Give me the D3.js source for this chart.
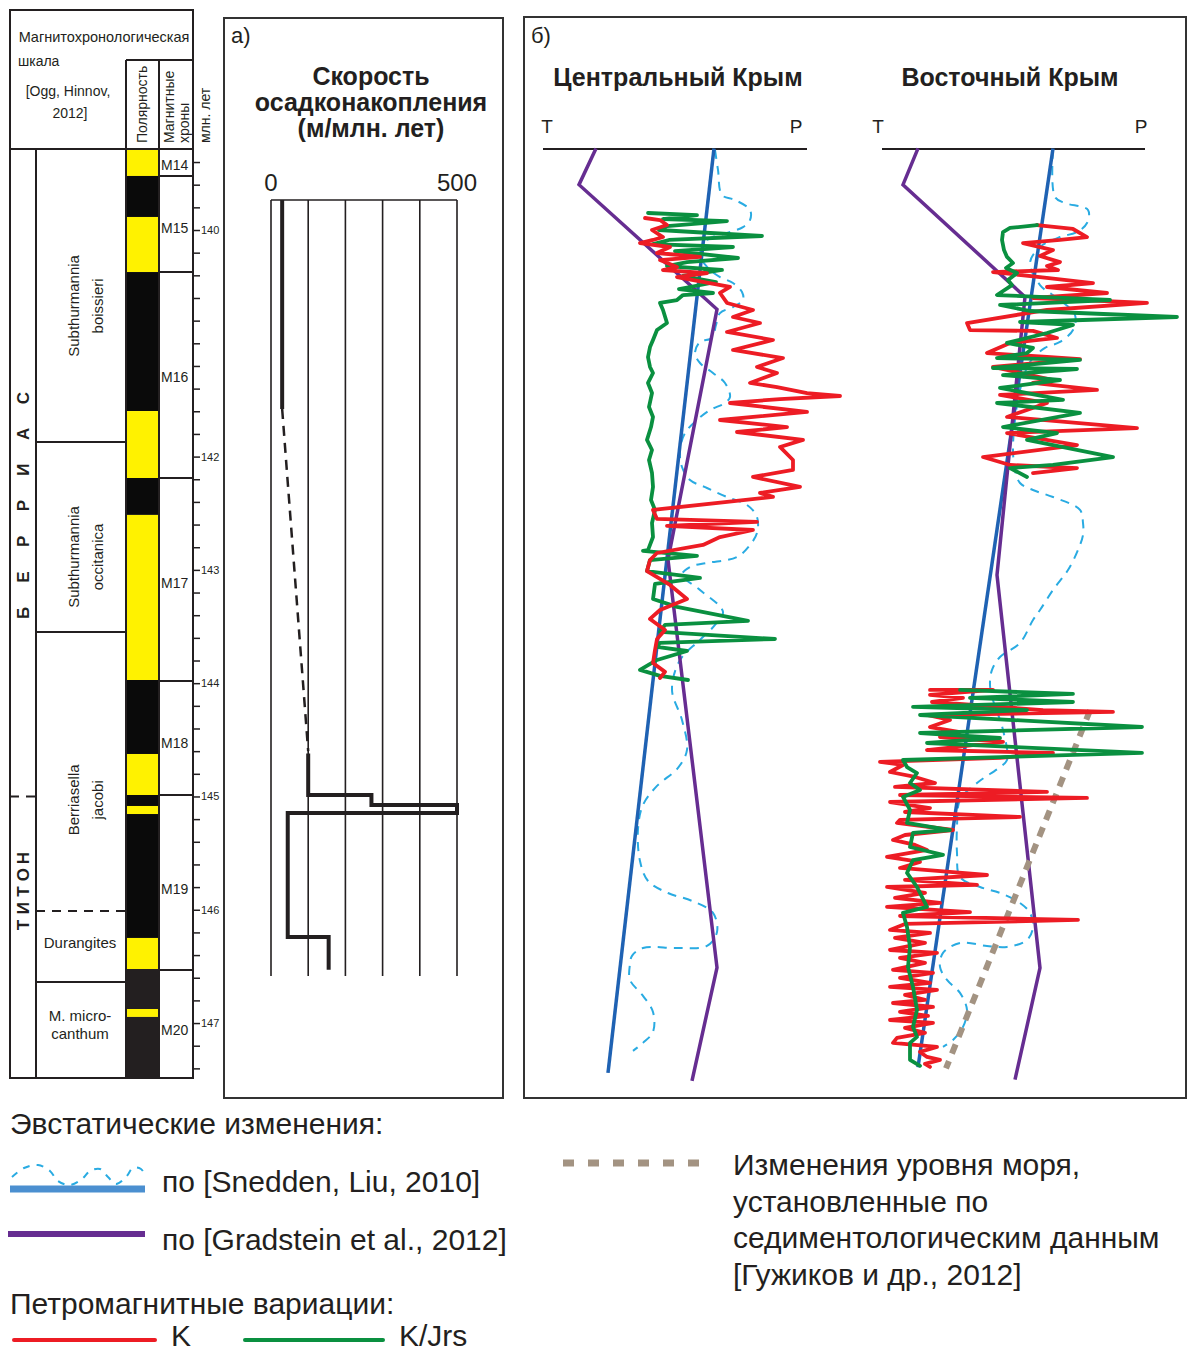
<!DOCTYPE html>
<html>
<head>
<meta charset="utf-8">
<script src="https://cdn.jsdelivr.net/npm/d3@7"></script>
<style>
  body { margin: 0; background: #fff; }
  svg { display: block; }
</style>
</head>
<body>
<div id="chart"></div>
<script>
// ---------- magnetochronological scale ----------
const polarityBounds = [139.285, 139.523, 139.885, 140.371, 141.598, 142.189, 142.515, 143.972, 144.625, 144.987, 145.084, 145.155, 146.249, 146.523, 146.876, 146.946, 147.485];
const polarityType = ['N', 'R', 'N', 'R', 'N', 'R', 'N', 'R', 'N', 'R', 'N', 'R', 'N', 'R2', 'N', 'R2'];

const chronBounds = [139.285, 139.523, 140.371, 142.189, 143.981, 144.987, 146.531, 147.485];
const chronNames = ['M14', 'M15', 'M16', 'M17', 'M18', 'M19', 'M20'];
const chronLabelAge = [139.43, 139.98, 141.30, 143.12, 144.53, 145.82, 147.06];

const zoneBounds = [139.285, 141.871, 143.548, 146.011, 146.637, 147.485];
const zoneDashed = [false, false, false, true, false, false];
const zoneNames = [['Subthurmannia', 'boissieri'], ['Subthurmannia', 'occitanica'], ['Berriasella', 'jacobi'], ['Durangites'], ['M. micro-', 'canthum']];
const zoneRotated = [true, true, true, false, false];
const zoneLabelAge = [140.67, 142.886, 145.03, 146.293, 147.017];

const stageNames = ['БЕРРИАС', 'ТИТОН'];
const stageLetterSpan = [[143.38, 141.483], [146.134, 145.543]];
const stageBoundary = 145.0;

const ageTicks = d3.range(697, 738).map(d => d / 5);
const ageLabels = [140, 142, 143, 144, 145, 146, 147];

// ---------- а) sedimentation rate, m/Ma ----------
const rateTicks = [0, 100, 200, 300, 400, 500];
const rateLabels = [0, 500];
const rateGridAge = [139.735, 146.585];
const rateSolidTop = [[30, 139.735], [30, 141.58]];
const rateDashed = [[30, 141.58], [100, 144.6]];
const rateSolidBottom = [[100, 144.62], [100, 144.987], [270, 144.987], [270, 145.075], [500, 145.075], [500, 145.146], [45, 145.146], [45, 146.24], [155, 146.24], [155, 146.53]];

// ---------- б) Central Crimea: [age, relative level] ----------
const centralPurple = [[139.28, 26.5], [139.60, 18], [140.70, 87], [142.91, 62.5], [146.51, 87], [147.51, 74.5]];
const centralBlue = [[139.28, 85.5], [147.44, 32.5]];
const centralDashed = [[139.294, 86], [139.47, 87.5], [139.691, 89.5], [139.735, 96], [139.823, 103.5], [139.912, 103.5], [139.974, 100], [140.026, 92], [140.088, 82], [140.221, 78.5], [140.335, 82.5], [140.415, 88.5], [140.468, 95], [140.547, 99.5], [140.618, 100], [140.68, 95], [140.733, 88.5], [140.838, 86.5], [140.953, 84.5], [140.988, 78.5], [141.086, 76], [141.174, 78.5], [141.262, 85], [141.35, 91], [141.474, 93.5], [141.527, 91], [141.589, 83.5], [141.677, 77], [141.792, 71], [141.942, 68.5], [142.092, 69.5], [142.207, 73.5], [142.277, 82], [142.357, 92], [142.427, 102], [142.533, 107], [142.674, 107], [142.78, 103.5], [142.886, 97], [142.939, 82], [142.974, 73.5], [143.045, 69.5], [143.177, 78.5], [143.371, 90], [143.486, 86], [143.618, 78.5], [143.795, 68.5], [144.06, 64.5], [144.325, 69.5], [144.589, 72], [144.748, 67.5], [144.907, 57], [145.075, 50], [145.287, 47.5], [145.569, 48.5], [145.746, 52.5], [145.852, 62.5], [145.922, 74.5], [146.028, 85], [146.196, 87], [146.319, 82], [146.337, 67], [146.337, 50], [146.407, 44.5], [146.478, 43.5], [146.619, 43.5], [146.76, 50], [146.902, 55], [147.078, 55], [147.175, 50], [147.246, 45]];
const centralRed = [[139.894, 51], [139.912, 58.5], [139.956, 62], [140.0, 54.5], [140.062, 60], [140.088, 55], [140.115, 48.5], [140.15, 63.5], [140.203, 57], [140.238, 78.5], [140.265, 58.5], [140.327, 67], [140.353, 60], [140.38, 82], [140.415, 67], [140.503, 93.5], [140.556, 88.5], [140.644, 92], [140.706, 105], [140.768, 95], [140.821, 108.5], [140.9, 92], [140.971, 115], [141.059, 95], [141.13, 120], [141.209, 107], [141.262, 117], [141.35, 103.5], [141.386, 117], [141.439, 132], [141.465, 148.5], [141.492, 118.5], [141.527, 93.5], [141.606, 132], [141.677, 88.5], [141.739, 122], [141.783, 97], [141.853, 130], [141.915, 118.5], [142.03, 125], [142.118, 125], [142.18, 105], [142.268, 128.5], [142.321, 108.5], [142.356, 115], [142.471, 55], [142.55, 57], [142.577, 107], [142.612, 62], [142.648, 105], [142.71, 88.5], [142.78, 80], [142.851, 57], [142.913, 53.5], [143.01, 52], [143.133, 63.5], [143.257, 72], [143.354, 58.5], [143.433, 53.5], [143.53, 61], [143.61, 57], [143.707, 56], [143.822, 55], [143.9, 61], [143.954, 58.5]];
const centralGreen = [[139.85, 52.5], [139.868, 77], [139.903, 60], [139.921, 92], [139.965, 62], [140.0, 58], [140.053, 109.5], [140.088, 63], [140.124, 55], [140.15, 95], [140.186, 66], [140.247, 97.5], [140.283, 72], [140.318, 62], [140.353, 89.5], [140.406, 70], [140.459, 86.5], [140.521, 68], [140.556, 85], [140.574, 70], [140.618, 67], [140.644, 58.5], [140.706, 60], [140.821, 62], [140.883, 57], [140.971, 55], [141.033, 53.5], [141.121, 52.5], [141.209, 53.5], [141.262, 55], [141.35, 52.5], [141.439, 54.5], [141.562, 53], [141.65, 55], [141.739, 54], [141.853, 52], [141.942, 54.5], [142.03, 53], [142.145, 54.5], [142.268, 55], [142.383, 54], [142.471, 56], [142.586, 54.5], [142.71, 55], [142.825, 52.5], [142.833, 50], [142.877, 77], [142.913, 53.5], [143.01, 52], [143.071, 78.5], [143.124, 56], [143.257, 55], [143.327, 67], [143.45, 102.5], [143.486, 61], [143.548, 58.5], [143.61, 116], [143.645, 58.5], [143.68, 57], [143.716, 72], [143.795, 57], [143.883, 48.5], [143.936, 58.5], [143.972, 72.5]];

// ---------- б) Eastern Crimea: [age, relative level] ----------
const eastPurple = [[139.28, 18], [139.60, 10.5], [140.59, 71.5], [143.045, 57.5], [146.514, 79], [147.50, 66.5]];
const eastBlue = [[139.28, 85.5], [147.39, 18]];
const eastSedLevel = [[144.24, 104], [147.40, 32]];
const eastDashed = [[139.294, 85.5], [139.709, 86.5], [139.762, 91.5], [139.823, 103], [139.938, 102.5], [140.018, 97.5], [140.062, 89], [140.15, 79], [140.291, 74], [140.486, 79], [140.618, 89], [140.75, 96.5], [140.883, 95.5], [140.988, 89], [141.041, 81.5], [141.165, 74], [141.412, 69], [141.677, 66.5], [141.942, 65.5], [142.118, 66.5], [142.233, 69], [142.295, 75.5], [142.357, 85.5], [142.471, 99], [142.586, 100.5], [142.692, 100.5], [142.824, 98], [143.001, 93], [143.177, 85.5], [143.354, 79], [143.442, 75.5], [143.645, 69], [143.769, 59], [143.883, 55], [144.016, 54], [144.148, 55.5], [144.413, 60.5], [144.678, 62.5], [144.74, 59], [144.881, 47.5], [145.031, 39], [145.269, 37.5], [145.499, 37.5], [145.711, 39], [145.799, 49], [145.852, 59], [145.94, 69], [146.028, 74], [146.152, 75.5], [146.267, 72.5], [146.328, 62.5], [146.319, 52.5], [146.293, 39], [146.381, 30.5], [146.505, 29], [146.619, 32.5], [146.734, 39], [146.884, 42.5], [147.034, 40.5], [147.149, 35.5], [147.211, 30.5]];
const eastRedUpper = [[139.956, 77.5], [139.991, 95.5], [140.062, 102.5], [140.088, 89], [140.115, 70.5], [140.177, 85.5], [140.229, 79], [140.283, 89], [140.318, 82.5], [140.353, 88], [140.371, 55.5], [140.415, 79], [140.468, 105.5], [140.503, 82.5], [140.556, 112.5], [140.6, 75.5], [140.644, 132.5], [140.706, 82.5], [140.821, 42.5], [140.883, 44], [140.891, 75.5], [140.953, 87.5], [140.997, 64], [141.086, 52.5], [141.121, 82.5], [141.139, 99], [141.209, 55.5], [141.324, 85.5], [141.35, 75.5], [141.412, 107.5], [141.456, 59], [141.527, 82.5], [141.65, 62.5], [141.748, 127.5], [141.792, 62.5], [141.898, 97.5], [142.004, 50.5], [142.074, 64], [142.101, 97.5], [142.145, 75.5]];
const eastRedLower = [[144.06, 24], [144.06, 55.5], [144.104, 24], [144.13, 40.5], [144.166, 25], [144.237, 80.5], [144.254, 115.5], [144.281, 22.5], [144.325, 34], [144.387, 24], [144.431, 39], [144.475, 29], [144.519, 60.5], [144.59, 22.5], [144.616, 85.5], [144.66, 59], [144.695, -1], [144.722, 10.5], [144.784, 4], [144.828, 16.5], [144.881, 26.5], [144.916, 6.5], [144.96, 82.5], [144.987, 9], [145.013, 102.5], [145.049, 4], [145.102, 24], [145.137, 11.5], [145.181, 69], [145.207, 9], [145.234, 7.5], [145.296, 35.5], [145.34, 11.5], [145.384, 5.5], [145.428, 16.5], [145.472, 22.5], [145.534, 2.5], [145.578, 19], [145.631, 9], [145.693, 52.5], [145.737, 11.5], [145.781, 47.5], [145.799, 2.5], [145.852, 21.5], [145.896, 6.5], [145.94, 29], [145.975, 2.5], [146.02, 44], [146.055, 9], [146.09, 98], [146.125, 11.5], [146.178, 4], [146.205, 24], [146.249, 6.5], [146.293, 21.5], [146.355, 4], [146.381, 27.5], [146.425, 9], [146.469, 21.5], [146.531, 5.5], [146.558, 25.5], [146.602, 9], [146.646, 24], [146.681, 4], [146.708, 27.5], [146.752, 11.5], [146.796, 21.5], [146.823, 5.5], [146.858, 25.5], [146.902, 9], [146.937, 23], [146.973, 4], [146.999, 25.5], [147.043, 11.5], [147.087, 21.5], [147.131, 7.5], [147.175, 5.5], [147.211, 27.5], [147.255, 19], [147.299, 22.5], [147.325, 29], [147.361, 21.5], [147.387, 24]];
const eastGreenUpper = [[139.956, 77.5], [139.982, 64], [140.018, 60.5], [140.088, 60], [140.177, 61], [140.238, 62.5], [140.291, 65.5], [140.335, 62], [140.38, 67.5], [140.441, 63], [140.486, 65], [140.574, 57.5], [140.618, 114], [140.662, 59], [140.715, 74], [140.768, 147.5], [140.812, 69], [140.838, 95.5], [140.909, 82.5], [140.997, 62.5], [141.041, 75.5], [141.086, 72.5], [141.13, 57.5], [141.147, 99], [141.218, 55.5], [141.227, 97.5], [141.28, 60.5], [141.324, 89], [141.394, 59], [141.5, 90.5], [141.527, 57.5], [141.615, 99], [141.739, 60.5], [141.792, 87.5], [141.853, 72.5], [142.004, 115.5], [142.074, 85.5], [142.101, 64], [142.18, 72.5]];
const eastGreenLower = [[144.06, 39], [144.095, 95.5], [144.13, 44], [144.166, 95.5], [144.21, 15.5], [144.237, 72.5], [144.281, 19], [144.387, 130], [144.44, 19], [144.484, 59], [144.528, 22.5], [144.616, 130], [144.678, 10.5], [144.74, 12.5], [144.793, 17.5], [144.881, 14], [144.943, 19], [145.004, 10.5], [145.119, 14], [145.234, 12.5], [145.296, 34], [145.322, 15.5], [145.446, 14], [145.516, 30.5], [145.561, 15.5], [145.675, 12.5], [145.799, 17.5], [145.975, 22.5], [146.028, 10.5], [146.152, 12.5], [146.328, 14], [146.505, 13], [146.681, 15.5], [146.884, 17.5], [147.034, 15.5], [147.122, 17.5], [147.175, 14], [147.325, 14], [147.378, 19]];

// ---------- drawing ----------
const W = 1188, H = 1353;
const ink = '#231f20';
const fontFam = '"Liberation Sans", Arial, Helvetica, sans-serif';
const polColor = { N: '#fff200', R: '#0a0a0a', R2: '#231f20' };

const svg = d3.select('#chart').append('svg')
  .attr('width', W)
  .attr('height', H)
  .attr('font-family', fontFam);
svg.append('rect').attr('width', W).attr('height', H).attr('fill', '#fff');

const ageY = d3.scaleLinear().domain([139.285, 147.485]).range([149, 1078]);

// --- left table ---
const tbl = svg.append('g');
tbl.selectAll('rect.pol')
  .data(polarityType)
  .join('rect')
  .attr('x', 126)
  .attr('width', 33)
  .attr('y', (d, i) => ageY(polarityBounds[i]))
  .attr('height', (d, i) => ageY(polarityBounds[i + 1]) - ageY(polarityBounds[i]))
  .attr('fill', d => polColor[d]);

const hline = (g, x1, x2, y, dashed) => g.append('line')
  .attr('x1', x1).attr('x2', x2).attr('y1', y).attr('y2', y)
  .attr('stroke', ink).attr('stroke-width', 2)
  .attr('stroke-dasharray', dashed ? '9,7' : null);
const vline = (g, x, y1, y2) => g.append('line')
  .attr('x1', x).attr('x2', x).attr('y1', y1).attr('y2', y2)
  .attr('stroke', ink).attr('stroke-width', 2);

tbl.append('rect').attr('x', 10).attr('y', 10).attr('width', 183).attr('height', 1068)
  .attr('fill', 'none').attr('stroke', ink).attr('stroke-width', 2);
hline(tbl, 10, 193, 149);
hline(tbl, 126, 193, 60);
vline(tbl, 36, 149, 1078);
vline(tbl, 126, 60, 1078);
vline(tbl, 159, 60, 1078);

chronBounds.slice(1, -1).forEach(a => hline(tbl, 159, 193, ageY(a)));
zoneBounds.slice(1, -1).forEach((a, i) => hline(tbl, 36, 126, ageY(a), zoneDashed[i + 1]));
hline(tbl, 10, 36, ageY(stageBoundary), true);

tbl.selectAll('text.chron')
  .data(chronNames)
  .join('text')
  .attr('x', 161)
  .attr('y', (d, i) => ageY(chronLabelAge[i]))
  .attr('dominant-baseline', 'central')
  .attr('font-size', 14)
  .attr('fill', ink)
  .text(d => d);

zoneNames.forEach((lines, i) => {
  const yc = ageY(zoneLabelAge[i]);
  lines.forEach((t, j) => {
    const off = (j - (lines.length - 1) / 2);
    const txt = tbl.append('text')
      .attr('text-anchor', 'middle')
      .attr('dominant-baseline', 'central')
      .attr('font-size', 15)
      .attr('fill', ink)
      .text(t);
    if (zoneRotated[i]) txt.attr('transform', `translate(${85 + off * 24},${yc}) rotate(-90)`);
    else txt.attr('x', 80).attr('y', yc + off * 18);
  });
});

stageNames.forEach((name, i) => {
  const letters = name.split('');
  const pos = d3.scalePoint().domain(d3.range(letters.length))
    .range(stageLetterSpan[i].map(ageY));
  tbl.selectAll(null)
    .data(letters)
    .join('text')
    .attr('transform', (d, k) => `translate(23,${pos(k)}) rotate(-90)`)
    .attr('text-anchor', 'middle')
    .attr('dominant-baseline', 'central')
    .attr('font-size', 17)
    .attr('font-weight', 'bold')
    .attr('fill', ink)
    .text(d => d);
});

// header texts
const head = tbl.append('g').attr('font-size', 14).attr('fill', ink);
head.append('text').attr('x', 104).attr('y', 42).attr('text-anchor', 'middle').attr('font-size', 14.5).text('Магнитохронологическая');
head.append('text').attr('x', 18).attr('y', 66).text('шкала');
head.append('text').attr('x', 68).attr('y', 96).attr('text-anchor', 'middle').text('[Ogg, Hinnov,');
head.append('text').attr('x', 70).attr('y', 118).attr('text-anchor', 'middle').text('2012]');
[['Полярность', 142], ['Магнитные', 169], ['хроны', 184], ['млн. лет', 205]].forEach(([t, x]) => {
  head.append('text')
    .attr('transform', `translate(${x},143) rotate(-90)`)
    .attr('dominant-baseline', 'central')
    .text(t);
});

// age axis
const ageAxis = d3.axisRight(ageY)
  .tickValues(ageTicks)
  .tickSize(7)
  .tickPadding(1)
  .tickFormat(d => ageLabels.includes(+d.toFixed(1)) ? d3.format('d')(d) : '');
svg.append('g')
  .attr('transform', 'translate(193,0)')
  .call(ageAxis)
  .call(g => g.select('.domain').remove())
  .call(g => g.selectAll('line').attr('stroke', ink).attr('stroke-width', 1.5))
  .call(g => g.selectAll('text').attr('font-size', 11).attr('fill', ink).attr('font-family', fontFam));

// --- panel а ---
const pa = svg.append('g');
pa.append('rect').attr('x', 224).attr('y', 18).attr('width', 279).attr('height', 1080)
  .attr('fill', 'none').attr('stroke', '#333').attr('stroke-width', 2);
pa.append('text').attr('x', 231).attr('y', 43).attr('font-size', 22).attr('fill', ink).text('а)');
const rateTitle = ['Скорость', 'осадконакопления', '(м/млн. лет)'];
pa.selectAll('text.title')
  .data(rateTitle)
  .join('text')
  .attr('x', 371)
  .attr('y', (d, i) => 85 + i * 26)
  .attr('text-anchor', 'middle')
  .attr('font-size', 25)
  .attr('font-weight', 'bold')
  .attr('fill', ink)
  .text(d => d);

const rateX = d3.scaleLinear().domain([0, 500]).range([271, 457]);
pa.selectAll('line.grid')
  .data(rateTicks)
  .join('line')
  .attr('x1', d => rateX(d)).attr('x2', d => rateX(d))
  .attr('y1', ageY(rateGridAge[0])).attr('y2', ageY(rateGridAge[1]))
  .attr('stroke', ink).attr('stroke-width', 1.6);
pa.append('line')
  .attr('x1', rateX(0)).attr('x2', rateX(500))
  .attr('y1', ageY(rateGridAge[0])).attr('y2', ageY(rateGridAge[0]))
  .attr('stroke', ink).attr('stroke-width', 1.6);
pa.selectAll('text.rl')
  .data(rateLabels)
  .join('text')
  .attr('x', d => rateX(d))
  .attr('y', 191)
  .attr('text-anchor', 'middle')
  .attr('font-size', 24)
  .attr('fill', ink)
  .text(d => d);

const rateLine = d3.line().x(d => rateX(d[0])).y(d => ageY(d[1]));
pa.append('path').attr('d', rateLine(rateSolidTop)).attr('fill', 'none')
  .attr('stroke', ink).attr('stroke-width', 4);
pa.append('path').attr('d', rateLine(rateDashed)).attr('fill', 'none')
  .attr('stroke', ink).attr('stroke-width', 2.5).attr('stroke-dasharray', '10,7');
pa.append('path').attr('d', rateLine(rateSolidBottom)).attr('fill', 'none')
  .attr('stroke', ink).attr('stroke-width', 4).attr('stroke-linejoin', 'miter');

// --- panel б ---
const pb = svg.append('g');
pb.append('rect').attr('x', 524).attr('y', 17).attr('width', 662).attr('height', 1081)
  .attr('fill', 'none').attr('stroke', '#333').attr('stroke-width', 2);
pb.append('text').attr('x', 531).attr('y', 43).attr('font-size', 22).attr('fill', ink).text('б)');

const cX = d3.scaleLinear().domain([0, 132]).range([543, 807]);
const eX = d3.scaleLinear().domain([0, 131.5]).range([882, 1145]);

const sections = [
  { name: 'Центральный Крым', x: cX, titleX: 678, tp: [547, 796], purple: centralPurple, blue: centralBlue, dashed: centralDashed, red: [centralRed], green: [centralGreen], greenFirst: true },
  { name: 'Восточный Крым', x: eX, titleX: 1010, tp: [878, 1141], purple: eastPurple, blue: eastBlue, dashed: eastDashed, red: [eastRedUpper, eastRedLower], green: [eastGreenUpper, eastGreenLower], sed: eastSedLevel, greenFirst: false }
];

sections.forEach(s => {
  const [x0, x1] = s.x.range();
  const g = pb.append('g');
  g.append('text').attr('x', s.titleX).attr('y', 86).attr('text-anchor', 'middle')
    .attr('font-size', 25).attr('font-weight', 'bold').attr('fill', ink).text(s.name);
  g.append('text').attr('x', s.tp[0]).attr('y', 133).attr('text-anchor', 'middle')
    .attr('font-size', 19).attr('fill', ink).text('Т');
  g.append('text').attr('x', s.tp[1]).attr('y', 133).attr('text-anchor', 'middle')
    .attr('font-size', 19).attr('fill', ink).text('Р');
  g.append('line').attr('x1', x0).attr('x2', x1).attr('y1', 149).attr('y2', 149)
    .attr('stroke', ink).attr('stroke-width', 2);

  const line = d3.line().x(d => s.x(d[1])).y(d => ageY(d[0]));
  const smooth = d3.line().x(d => s.x(d[1])).y(d => ageY(d[0])).curve(d3.curveCatmullRom.alpha(0.5));

  g.append('path').attr('d', smooth(s.dashed)).attr('fill', 'none')
    .attr('stroke', '#29abe2').attr('stroke-width', 2).attr('stroke-dasharray', '9,7');
  g.append('path').attr('d', line(s.blue)).attr('fill', 'none')
    .attr('stroke', '#1f62b3').attr('stroke-width', 3.5);
  g.append('path').attr('d', line(s.purple)).attr('fill', 'none')
    .attr('stroke', '#662d91').attr('stroke-width', 3.5).attr('stroke-linejoin', 'miter');
  if (s.sed) {
    g.append('path').attr('d', line(s.sed)).attr('fill', 'none')
      .attr('stroke', '#a39382').attr('stroke-width', 6).attr('stroke-dasharray', '10,8');
  }
  const curves = s.greenFirst
    ? [[s.green, '#0a9040'], [s.red, '#ed1c24']]
    : [[s.red, '#ed1c24'], [s.green, '#0a9040']];
  curves.forEach(([parts, color]) => {
    parts.forEach(data => {
      g.append('path').attr('d', line(data)).attr('fill', 'none')
        .attr('stroke', color).attr('stroke-width', 3.8)
        .attr('stroke-linejoin', 'round').attr('stroke-linecap', 'round');
    });
  });
});

// --- legend ---
const lg = svg.append('g').attr('font-size', 30).attr('fill', ink);
lg.append('text').attr('x', 10).attr('y', 1134).text('Эвстатические изменения:');
const wave = [[12, 1177], [24, 1168], [38, 1165], [50, 1171], [58, 1181], [70, 1185], [82, 1179], [90, 1171], [100, 1169], [108, 1177], [116, 1184], [126, 1177], [133, 1168], [141, 1169], [146, 1177]];
lg.append('path').attr('d', d3.line().curve(d3.curveCatmullRom)(wave)).attr('fill', 'none')
  .attr('stroke', '#29abe2').attr('stroke-width', 2).attr('stroke-dasharray', '7,7');
lg.append('line').attr('x1', 10).attr('x2', 145).attr('y1', 1189).attr('y2', 1189)
  .attr('stroke', '#4b8fd0').attr('stroke-width', 7);
lg.append('text').attr('x', 162).attr('y', 1192).text('по [Snedden, Liu, 2010]');
lg.append('line').attr('x1', 8).attr('x2', 145).attr('y1', 1234).attr('y2', 1234)
  .attr('stroke', '#662d91').attr('stroke-width', 6);
lg.append('text').attr('x', 162).attr('y', 1250).text('по [Gradstein et al., 2012]');
lg.append('text').attr('x', 10).attr('y', 1314).text('Петромагнитные вариации:');
lg.append('line').attr('x1', 14).attr('x2', 155).attr('y1', 1340).attr('y2', 1340)
  .attr('stroke', '#ed1c24').attr('stroke-width', 4).attr('stroke-linecap', 'round');
lg.append('text').attr('x', 171).attr('y', 1346).text('K');
lg.append('line').attr('x1', 245).attr('x2', 383).attr('y1', 1340).attr('y2', 1340)
  .attr('stroke', '#0a9040').attr('stroke-width', 4).attr('stroke-linecap', 'round');
lg.append('text').attr('x', 399).attr('y', 1346).text('K/Jrs');
lg.append('line').attr('x1', 563).attr('x2', 702).attr('y1', 1163).attr('y2', 1163)
  .attr('stroke', '#a39382').attr('stroke-width', 7).attr('stroke-dasharray', '11,14');
const sedText = ['Изменения уровня моря,', 'установленные по', 'седиментологическим данным', '[Гужиков и др., 2012]'];
lg.selectAll('text.sed')
  .data(sedText)
  .join('text')
  .attr('x', 733)
  .attr('y', (d, i) => 1175 + i * 36.5)
  .text(d => d);
</script>
</body>
</html>
